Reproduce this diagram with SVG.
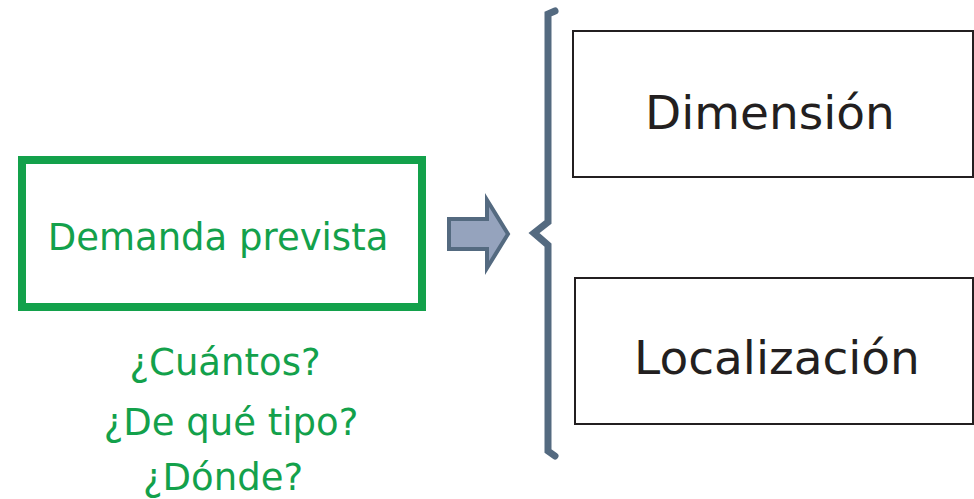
<svg xmlns="http://www.w3.org/2000/svg" width="974" height="499" viewBox="0 0 974 499">
<style>
.g{fill:#13a14b;font-family:"DejaVu Sans",Verdana,sans-serif;font-size:37px;text-anchor:middle}
.k{fill:#231f20;font-family:"DejaVu Sans",Verdana,sans-serif;font-size:47px;text-anchor:middle}
.box{fill:#fff;stroke:#231f20;stroke-width:2}
.sl{stroke:#546a80;stroke-width:7;fill:none;stroke-linecap:round;stroke-linejoin:miter}
</style>
<rect width="974" height="499" fill="#fff"/>
<g id="demanda">
<rect x="22" y="160" width="400" height="147" fill="#fff" stroke="#13a14b" stroke-width="8"/>
<text class="g" x="218" y="250">Demanda prevista</text>
</g>
<g id="preguntas">
<text class="g" x="225" y="375">¿Cuántos?</text>
<text class="g" x="231" y="435">¿De qué tipo?</text>
<text class="g" x="223" y="490">¿Dónde?</text>
</g>
<g id="dimension">
<rect class="box" x="573" y="31" width="400" height="146"/>
<text class="k" x="770" y="129">Dimensión</text>
</g>
<g id="localizacion">
<rect class="box" x="575" y="278" width="398" height="146"/>
<text class="k" x="777" y="374">Localización</text>
</g>
<g id="connectors">
<path d="M449,219 L487,219 L487,200 L508,234 L487,268 L487,249 L449,249 Z" fill="#95a3bd" stroke="#546a80" stroke-width="4" stroke-linejoin="miter"/>
<path class="sl" d="M555,11 L548,14 L548,222 L534,233 L548,245 L548,451 L555,456"/>
</g>
</svg>
